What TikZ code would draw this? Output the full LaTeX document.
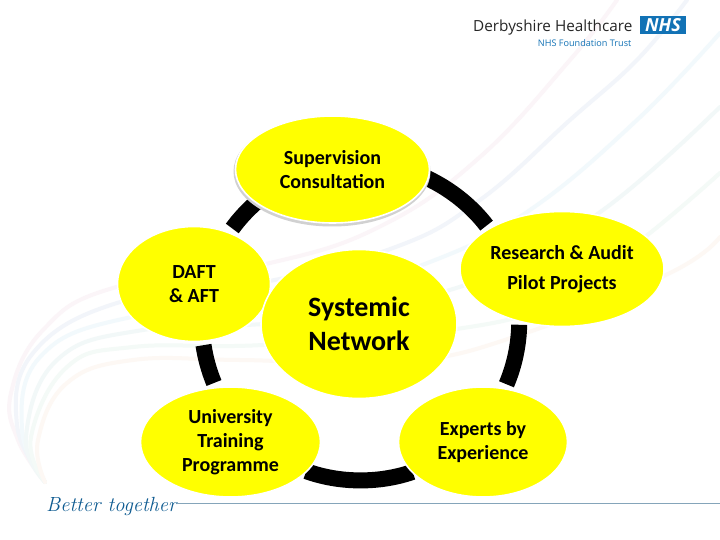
\documentclass[tikz,border=0pt]{standalone}
\usepackage{fontspec}
\usetikzlibrary{shapes.geometric}
\setsansfont{Carlito}
\newfontfamily\logofont{Open Sans}
\definecolor{ylw}{HTML}{FFFF00}
\definecolor{nhsblue}{HTML}{1272B5}
\definecolor{swA}{HTML}{FBF5F8}
\definecolor{swB}{HTML}{F2F5FA}
\definecolor{swC}{HTML}{F2F9FC}
\definecolor{swD}{HTML}{F2F8F8}
\definecolor{swE}{HTML}{F4FAF7}
\definecolor{swF}{HTML}{FDF8F4}
\tikzset{
  x=1pt,y=-1pt,
  swoosh/.style={line width=4pt,line cap=round},
  ringarc/.style={line width=16pt,black},
  blob/.style={ellipse,fill=ylw,draw=white,line width=1.6pt,inner sep=0pt,align=center,text=black,font=\sffamily\bfseries},
}
\newcommand{\ringpt}[2]{\coordinate (#1) at ({360.5+158.7*cos(#2)},{322+158.7*sin(#2)});}
\begin{document}
\begin{tikzpicture}
\useasboundingbox (0,0) rectangle (720,540);
\fill[white] (0,0) rectangle (720,540);
% background swooshes
\draw[swoosh,swA] plot[smooth,tension=.7] coordinates {(45,482) (18,440) (11,393) (43,330) (113,288) (270,263) (383,225) (480,157) (570,60) (617,0)};
\draw[swoosh,swB] plot[smooth,tension=.7] coordinates {(45,482) (17,425) (33,353) (117,303) (250,285) (393,248) (480,200) (570,120) (637,60) (687,0)};
\draw[swoosh,swC] plot[smooth,tension=.7] coordinates {(45,482) (22,430) (40,357) (127,318) (300,300) (430,262) (530,210) (637,120) (720,33)};
\draw[swoosh,swD] plot[smooth,tension=.7] coordinates {(45,482) (26,437) (57,360) (143,330) (300,320) (480,280) (603,210) (720,107)};
\draw[swoosh,swE] plot[smooth,tension=.7] coordinates {(45,482) (31,437) (67,367) (133,347) (263,345) (450,330) (560,300) (650,233) (720,173)};
\draw[swoosh,swF] plot[smooth,tension=.7] coordinates {(45,482) (38,440) (67,383) (133,360) (240,360) (400,362) (520,335) (670,273) (720,237)};
% ring
\ringpt{tlA}{216.1}\ringpt{tlB}{240}
\ringpt{trA}{285}\ringpt{trB}{322.6}
\ringpt{rA}{1}\ringpt{rB}{23.1}
\ringpt{bA}{70.8}\ringpt{bB}{110}
\ringpt{lA}{157.4}\ringpt{lB}{171.6}
\draw[ringarc] (tlA) to[bend left=12,looseness=.85] (tlB);
\draw[ringarc] (trA) to[bend left=18.8,looseness=.85] (trB);
\draw[ringarc] (rA) to[bend left=11,looseness=.85] (rB);
\draw[ringarc] (bA) to[bend left=19.6,looseness=.85] (bB);
\draw[ringarc] (lA) to[bend left=7,looseness=.85] (lB);
% nodes
\node[ellipse,fill=black!18,minimum width=197pt,minimum height=110pt,inner sep=0pt] (supshadow) at (332,171.5) {};
\node[blob,minimum width=194pt,minimum height=107pt,font=\sffamily\bfseries\fontsize{20}{24}\selectfont] (sup) at (332.5,169.5) {Supervision\\Consultation};
\node[blob,minimum width=153pt,minimum height=115pt,font=\sffamily\bfseries\fontsize{20}{24}\selectfont] (daft) at (194,284) {DAFT\\\&\ AFT};
\node[blob,minimum width=204pt,minimum height=115pt,font=\sffamily\bfseries\fontsize{20}{30}\selectfont] (res) at (562,269) {Research \& Audit\\Pilot Projects};
\node[blob,minimum width=196pt,minimum height=149pt,font=\sffamily\bfseries\fontsize{28}{34}\selectfont] (sys) at (359,324) {Systemic\\Network};
\node[blob,minimum width=180pt,minimum height=110pt,font=\sffamily\bfseries\fontsize{20}{24}\selectfont] (uni) at (230.5,442) {University\\Training\\Programme};
\node[blob,minimum width=169pt,minimum height=110pt,font=\sffamily\bfseries\fontsize{20}{24}\selectfont] (exp) at (483,442) {Experts by\\Experience};
% logo
\node[anchor=base west,inner sep=0pt,text=black!85,font=\logofont\fontsize{15.3}{18}\selectfont] (dh) at (473,32) {Derbyshire Healthcare};
\node[anchor=base east,inner sep=0pt,text=nhsblue,font=\logofont\fontsize{9.1}{11}\selectfont] (ft) at (631.5,47) {NHS Foundation Trust};
\node[fill=nhsblue,text=white,minimum width=46pt,minimum height=18pt,inner sep=0pt,font=\logofont\bfseries\itshape\fontsize{18}{18}\selectfont] (nhs) at (663,25) {NHS};
% footer
\node[anchor=base west,inner sep=0pt,text=nhsblue!80!black,font=\rmfamily\itshape\fontsize{20.5}{24}\selectfont] (bt) at (46,511) {Better together};
\coordinate (ruleend) at (720,503);
\draw[line width=1pt,color=black!35!nhsblue!50] (bt.east |- ruleend) -- (ruleend);
\end{tikzpicture}
\end{document}
